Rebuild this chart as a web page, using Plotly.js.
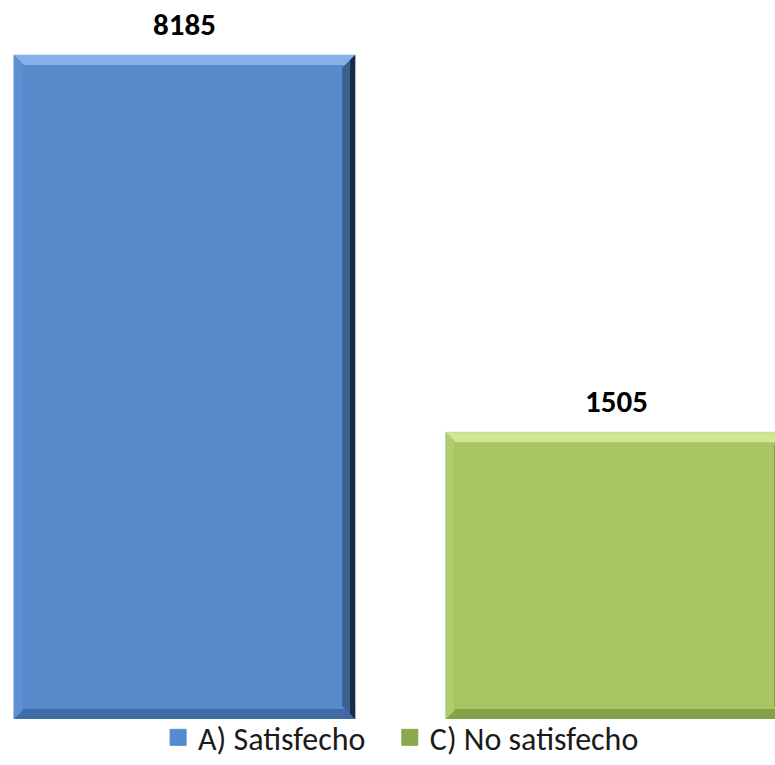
<!DOCTYPE html>
<html>
<head>
<meta charset="utf-8">
<script src="https://cdn.plot.ly/plotly-3.0.1.min.js"></script>
<style>html,body{margin:0;padding:0;background:#fff;}#chart{width:775px;height:765px;}</style>
</head>
<body>
<div id="chart"></div>
<script>
// ---- data ----
const categories = ['A) Satisfecho', 'C) No satisfecho'];
const values = [8185, 1505];
const valueLabels = ['8185', '1505'];
const mainColors = ['#568acb', '#a7c563'];
const topColors = ['#86b1ea', '#cfe891'];
const leftColors = ['#5d90d2', '#b0cd6c'];
const rightColors = ['#3a6192', '#7f9c45'];
const rightEdgeColors = ['#1b2b41', '#56692c'];
const bottomColors = ['#3f6ca6', '#85a24b'];
const legendColors = ['#558bd0', '#8aa84e'];

// ---- layout constants ----
const W = 775, H = 765;
const margin = {l: 0, r: 0, t: 0, b: 46, autoexpand: false};
const xRange = [-0.427, 1.367];
const yMin = -3571, yMax = 9159;
const barWidth = 0.79;
const fontFam = "Carlito, Calibri, 'Liberation Sans', Arial, sans-serif";
const legendX = [0.204, 0.503];
const legendNames = ['legend', 'legend2'];

const plotW = W - margin.l - margin.r;
const plotH = H - margin.t - margin.b;
const pxX = (xRange[1] - xRange[0]) / plotW;
const pxY = (yMax - yMin) / plotH;

const barTraces = categories.map((c, i) => ({
  type: 'bar',
  name: c,
  legendgroup: c,
  showlegend: false,
  x: [i],
  y: [values[i] - yMin],
  base: [yMin],
  width: [barWidth],
  marker: {color: mainColors[i], line: {width: 1, color: 'rgba(170,190,215,0.9)'}},
  customdata: [values[i]],
  hovertemplate: c + ': %{customdata}<extra></extra>',
  cliponaxis: true
}));
const legendTraces = categories.map((c, i) => ({
  type: 'scatter', mode: 'markers',
  name: c, legendgroup: c, showlegend: true,
  legend: legendNames[i],
  x: [null], y: [null],
  marker: {symbol: 'square', size: 18, color: legendColors[i], line: {width: 1, color: legendColors[i]}},
  hoverinfo: 'skip'
}));

const shapes = [];
function poly(pts, color) {
  const d = 'M' + pts.map(p => p[0] + ',' + p[1]).join('L') + 'Z';
  shapes.push({type: 'path', xref: 'x', yref: 'y', path: d, fillcolor: color, line: {width: 0}, layer: 'above'});
}
values.forEach((v, i) => {
  const x0 = i - barWidth / 2, x1 = i + barWidth / 2, y0 = yMin, y1 = v;
  const bx = 10 * pxX, by = 10 * pxY;
  poly([[x0, y1], [x1, y1], [x1 - bx, y1 - by], [x0 + bx, y1 - by]], topColors[i]);
  poly([[x0, y0], [x1, y0], [x1 - bx, y0 + by], [x0 + bx, y0 + by]], bottomColors[i]);
  poly([[x0, y0], [x0, y1], [x0 + bx * 0.8, y1 - by * 0.8], [x0 + bx * 0.8, y0 + by * 0.8]], leftColors[i]);
  poly([[x1, y0], [x1, y1], [x1 - bx * 1.3, y1 - by * 1.3], [x1 - bx * 1.3, y0 + by * 1.3]], rightColors[i]);
  poly([[x1, y0], [x1, y1], [x1 - bx * 0.5, y1 - by * 0.5], [x1 - bx * 0.5, y0 + by * 0.5]], rightEdgeColors[i]);
});

const annotations = values.map((v, i) => ({
  x: i, y: v, xref: 'x', yref: 'y',
  text: '<b>' + valueLabels[i] + '</b>',
  showarrow: false, yanchor: 'bottom', yshift: 10,
  font: {family: fontFam, size: 31, color: '#000'}
}));

function legendCfg(i) {
  return {orientation: 'h', x: legendX[i], xanchor: 'left', y: -0.064, yanchor: 'bottom',
          font: {family: fontFam, size: 32, color: '#1a1a1a'}, itemwidth: 30, bgcolor: 'rgba(0,0,0,0)'};
}

const layout = {
  width: W, height: H,
  margin: margin,
  paper_bgcolor: '#fff', plot_bgcolor: '#fff',
  barmode: 'overlay',
  showlegend: true,
  xaxis: {range: xRange, showticklabels: false, showgrid: false, zeroline: false, showline: false, ticks: '', fixedrange: true},
  yaxis: {range: [yMin, yMax], showticklabels: false, showgrid: false, zeroline: false, showline: false, ticks: '', fixedrange: true},
  legend: legendCfg(0),
  legend2: legendCfg(1),
  shapes: shapes,
  annotations: annotations,
  font: {family: fontFam}
};

Plotly.newPlot('chart', barTraces.concat(legendTraces), layout, {displayModeBar: false, staticPlot: true});
</script>
</body>
</html>
